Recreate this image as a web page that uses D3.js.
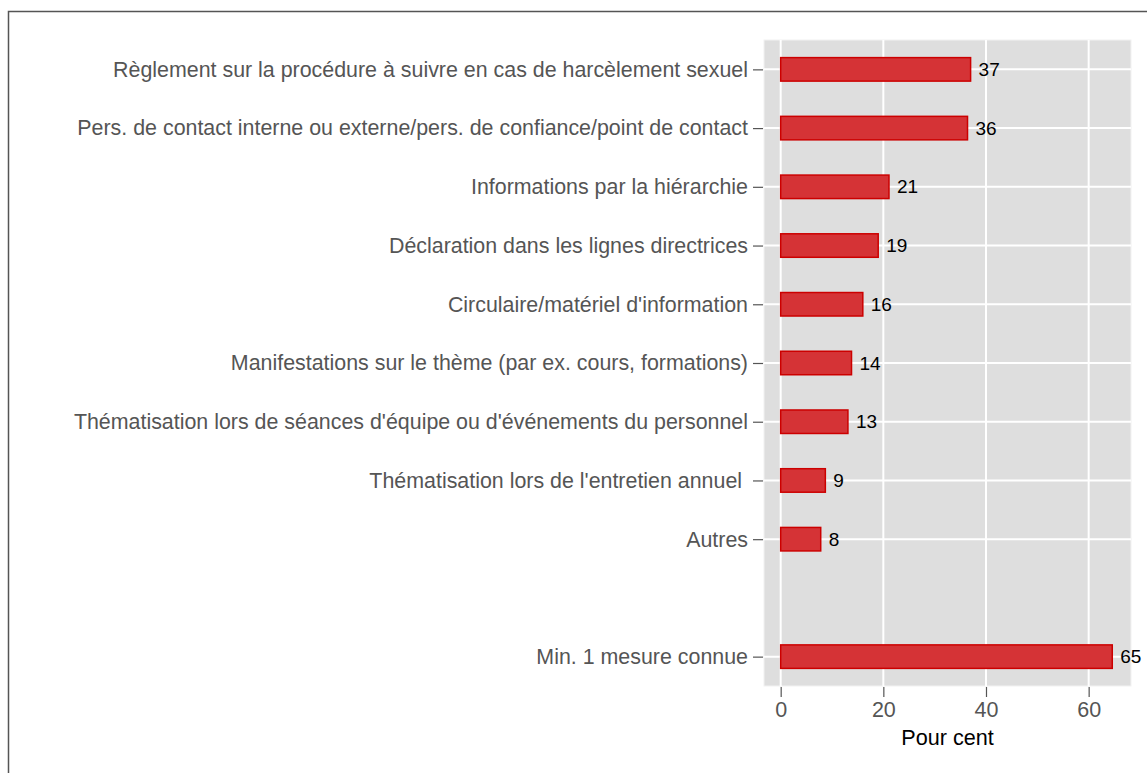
<!DOCTYPE html>
<html>
<head>
<meta charset="utf-8">
<script src="https://cdn.jsdelivr.net/npm/d3@7"></script>
<style>
  body { margin: 0; background: #fff; }
  svg { font-family: "Liberation Sans", Arial, sans-serif; }
</style>
</head>
<body>
<svg id="chart"></svg>
<script>
// categories top to bottom, "" is the empty gap slot
var categories = [
  "Règlement sur la procédure à suivre en cas de harcèlement sexuel",
  "Pers. de contact interne ou externe/pers. de confiance/point de contact",
  "Informations par la hiérarchie",
  "Déclaration dans les lignes directrices",
  "Circulaire/matériel d'information",
  "Manifestations sur le thème (par ex. cours, formations)",
  "Thématisation lors de séances d'équipe ou d'événements du personnel",
  "Thématisation lors de l'entretien annuel ",
  "Autres",
  "",
  "Min. 1 mesure connue"
];
var values = [37.0, 36.4, 21.1, 19.0, 16.0, 13.8, 13.1, 8.7, 7.8, null, 64.6];
var xTicks = [0, 20, 40, 60];
var xTitle = "Pour cent";

var width = 1147, height = 773;
var panel = { left: 764, right: 1131, top: 40, bottom: 686 };

var svg = d3.select("#chart").attr("width", width).attr("height", height);

// outer frame
svg.append("rect")
  .attr("x", 8.5).attr("y", 11.5)
  .attr("width", width + 20).attr("height", height + 20)
  .attr("fill", "none")
  .attr("stroke", "#555")
  .attr("stroke-width", 1.5);

var xs = d3.scaleLinear()
  .domain([-3.25, 68.25])
  .range([panel.left, panel.right]);

var ys = d3.scalePoint()
  .domain(categories.map(function (d, i) { return i; }))
  .range([panel.top, panel.bottom])
  .padding(0.5);

var data = categories.map(function (c, i) {
  return { key: i, name: c, value: values[i] };
}).filter(function (d) { return d.value != null; });

// panel background
svg.append("rect")
  .attr("x", panel.left).attr("y", panel.top)
  .attr("width", panel.right - panel.left)
  .attr("height", panel.bottom - panel.top)
  .attr("fill", "#dedede")
  .attr("stroke", "#f2f2f2")
  .attr("stroke-width", 1);

// grid
svg.append("g").selectAll("line")
  .data(xTicks)
  .enter().append("line")
  .attr("x1", function (d) { return xs(d); })
  .attr("x2", function (d) { return xs(d); })
  .attr("y1", panel.top).attr("y2", panel.bottom)
  .attr("stroke", "#fff").attr("stroke-width", 2);

svg.append("g").selectAll("line")
  .data(data)
  .enter().append("line")
  .attr("x1", panel.left).attr("x2", panel.right)
  .attr("y1", function (d) { return ys(d.key); })
  .attr("y2", function (d) { return ys(d.key); })
  .attr("stroke", "#fff").attr("stroke-width", 2);

// bars
var barH = ys.step() * 0.4;
svg.append("g").selectAll("rect")
  .data(data)
  .enter().append("rect")
  .attr("x", xs(0))
  .attr("y", function (d) { return ys(d.key) - barH / 2; })
  .attr("width", function (d) { return xs(d.value) - xs(0); })
  .attr("height", barH)
  .attr("fill", "#d53336")
  .attr("stroke", "#cc0000")
  .attr("stroke-width", 1.5);

// value labels
svg.append("g").selectAll("text")
  .data(data)
  .enter().append("text")
  .attr("x", function (d) { return xs(d.value) + 8; })
  .attr("y", function (d) { return ys(d.key); })
  .attr("dy", "0.35em")
  .style("font-size", "19px")
  .style("fill", "#000")
  .text(function (d) { return Math.round(d.value); });

// y axis
var yAxis = svg.append("g")
  .attr("transform", "translate(" + (panel.left - 1) + ",0)")
  .call(d3.axisLeft(ys)
    .tickValues(data.map(function (d) { return d.key; }))
    .tickFormat(function (i) { return categories[i]; })
    .tickSize(10).tickPadding(5));
yAxis.select(".domain").remove();
yAxis.selectAll(".tick line").attr("stroke", "#555").attr("stroke-width", 1.2);
yAxis.selectAll(".tick text")
  .style("font-size", "21.4px")
  .style("fill", "#555")
  .style("white-space", "pre")
  .attr("font-family", null);

// x axis
var xAxis = svg.append("g")
  .attr("transform", "translate(0," + (panel.bottom + 1) + ")")
  .call(d3.axisBottom(xs).tickValues(xTicks).tickSize(10).tickPadding(5));
xAxis.select(".domain").remove();
xAxis.selectAll(".tick line").attr("stroke", "#555").attr("stroke-width", 1.2);
xAxis.selectAll(".tick text")
  .style("font-size", "21.5px")
  .style("fill", "#555")
  .attr("font-family", null);

svg.append("text")
  .attr("x", (panel.left + panel.right) / 2)
  .attr("y", 737)
  .attr("dy", "0.35em")
  .attr("text-anchor", "middle")
  .style("font-size", "21.6px")
  .style("fill", "#000")
  .text(xTitle);
</script>
</body>
</html>
